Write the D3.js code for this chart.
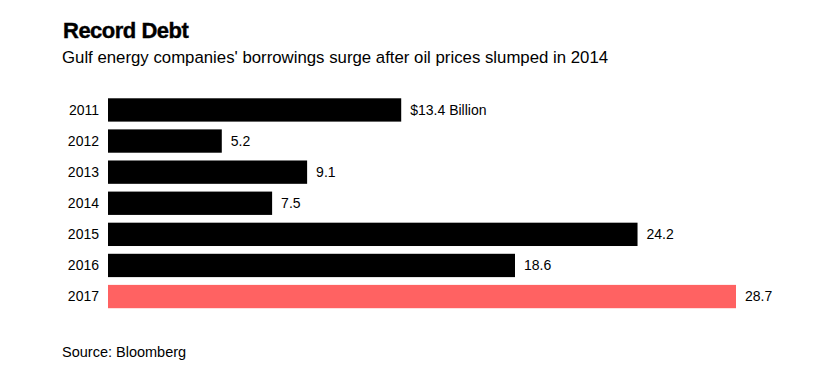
<!DOCTYPE html>
<html><head><meta charset="utf-8">
<script src="https://cdn.jsdelivr.net/npm/d3@7"></script>
<style>body{margin:0;background:#fff;} svg{display:block;font-family:"Liberation Sans",Arial,sans-serif;}</style>
</head><body>
<svg id="c" width="831" height="382"></svg>
<script>
const years = ["2011","2012","2013","2014","2015","2016","2017"];
const values = [13.4, 5.2, 9.1, 7.5, 24.2, 18.6, 28.7];
const valueLabels = ["$13.4 Billion","5.2","9.1","7.5","24.2","18.6","28.7"];
const highlightYear = "2017";
const title = "Record Debt";
const subtitle = "Gulf energy companies' borrowings surge after oil prices slumped in 2014";
const source = "Source: Bloomberg";

const svg = d3.select("#c");
const x = d3.scaleLinear().domain([0, 28.7]).range([108, 736]);
const y = d3.scaleBand().domain(years).range([94.4, 312.1]).paddingInner(0.25).paddingOuter(0.125);
const data = years.map((yr,i)=>({yr, v:values[i], lab:valueLabels[i]}));

svg.append("text").attr("x",63).attr("y",38).attr("font-size",22).attr("font-weight","bold")
  .attr("letter-spacing","-0.5px").attr("stroke","#000").attr("stroke-width",0.4)
  .attr("fill","#000").text(title);
svg.append("text").attr("x",62).attr("y",63).attr("font-size",16.8).attr("fill","#000").text(subtitle);

svg.selectAll("rect.bar").data(data).enter().append("rect").attr("class","bar")
  .attr("x",x(0)).attr("y",d=>y(d.yr)).attr("width",d=>x(d.v)-x(0)).attr("height",y.bandwidth())
  .attr("fill",d=>d.yr===highlightYear?"#ff6262":"#000");

svg.selectAll("text.yr").data(data).enter().append("text").attr("class","yr")
  .attr("x",99).attr("y",d=>y(d.yr)+y.bandwidth()/2).attr("dy","0.35em")
  .attr("text-anchor","end").attr("font-size",14).attr("fill","#000").text(d=>d.yr);

svg.selectAll("text.val").data(data).enter().append("text").attr("class","val")
  .attr("x",d=>x(d.v)+9).attr("y",d=>y(d.yr)+y.bandwidth()/2).attr("dy","0.35em")
  .attr("font-size",14).attr("fill","#000").text(d=>d.lab);

svg.append("text").attr("x",62).attr("y",357).attr("font-size",14.5).attr("fill","#000").text(source);
</script>
</body></html>
